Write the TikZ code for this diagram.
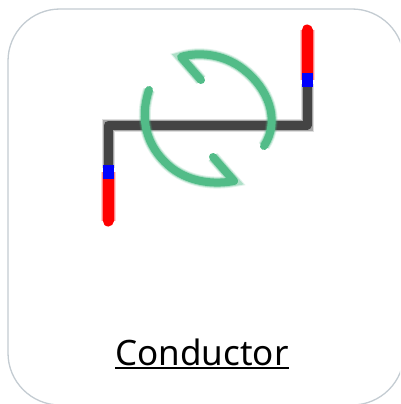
\documentclass[tikz,border=0pt]{standalone}
\usepackage{fontspec}
\setmainfont{Noto Sans}
\definecolor{cardline}{HTML}{C4CCD2}
\definecolor{wiregray}{HTML}{444444}
\definecolor{arcgreen}{HTML}{52BC88}
\definecolor{pureblue}{HTML}{0000FF}
\definecolor{purered}{HTML}{FF0000}
\tikzset{
  card/.style={draw=cardline,line width=1.3pt,fill=white},
  soft/.style n args={2}{preaction={draw=#1,line width=#2+4pt,opacity=.18},preaction={draw=#1,line width=#2+2pt,opacity=.35},draw=#1,line width=#2},
  wire/.style={soft={wiregray}{9pt},line join=round},
  arcline/.style={soft={arcgreen}{8pt},line cap=round,line join=round},
  tipred/.style={soft={purered}{11pt},line cap=round},
  tipblue/.style={draw=pureblue,line width=11pt},
  caption/.style={inner sep=0pt,font=\fontsize{35}{40}\selectfont,text=black,anchor=base},
  captionrule/.style={draw=black,line width=2pt}
}
\begin{document}
\begin{tikzpicture}[x=1pt,y=-1pt]
\useasboundingbox (0,0) rectangle (400,404);
\fill[white] (0,0) rectangle (400,404);
\begin{scope}
\clip (0,0) rectangle (400,404);
\draw[card,rounded corners=52pt] (8,9) rectangle (404,405);
\end{scope}
% wires
\draw[tipred] (108,221) -- (108,172);
\draw[tipred] (307,30) -- (307,80);
\draw[wire] (108,168) -- (108,125) -- (307,125) -- (307,84);
\draw[tipblue] (108,165) -- (108,179);
\draw[tipblue] (307,73) -- (307,87);
% arrows
\draw[arcline] (201,80) -- (181,57) .. controls (197,52) and (222,53) .. (243,69) .. controls (268,88) and (281,120) .. (264,146);
\draw[arcline] (149,90) .. controls (139,120) and (147,146) .. (168,165) .. controls (187,182) and (213,185) .. (234,181) -- (213,157);
% caption
\node[caption] (label) at (202,365) {Conductor};
\draw[captionrule] ([yshift=-3pt]label.base west) -- ([yshift=-3pt]label.base east);
\end{tikzpicture}
\end{document}
